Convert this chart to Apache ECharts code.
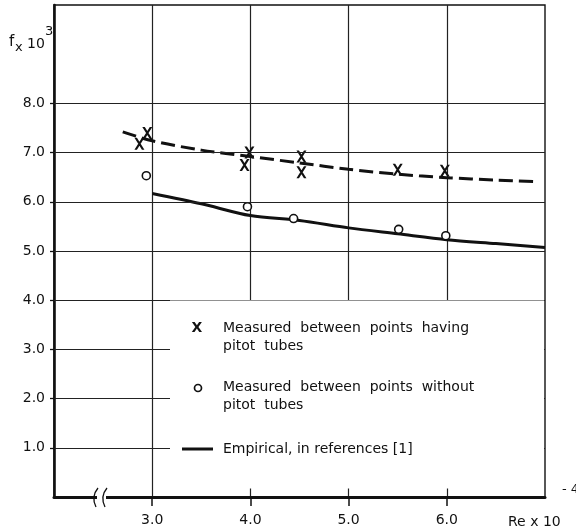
<!DOCTYPE html>
<html>
<head>
<meta charset="utf-8">
<script src="https://cdn.jsdelivr.net/npm/echarts@6/dist/echarts.min.js"></script>
<style>
html,body{margin:0;padding:0;background:#fff;}
#c{width:576px;height:532px;}
</style>
</head>
<body>
<div id="c"></div>
<script>
// Measured between points having pitot tubes (X)
const crossRe = [2.87, 2.95, 3.94, 3.99, 4.52, 4.52, 5.50, 5.98];
const crossF  = [7.18, 7.40, 6.75, 7.00, 6.92, 6.60, 6.65, 6.63];
// Measured between points without pitot tubes (o)
const circleRe = [2.94, 3.97, 4.44, 5.51, 5.99];
const circleF  = [6.53, 5.90, 5.66, 5.44, 5.31];
// dashed curve (fit through X points)
const dashRe = [2.70, 3.00, 3.50, 4.00, 4.50, 5.00, 5.50, 6.00, 6.50, 6.88];
const dashF  = [7.42, 7.24, 7.05, 6.92, 6.79, 6.66, 6.56, 6.49, 6.44, 6.41];
// Empirical curve
const empRe = [3.00, 3.50, 4.00, 4.50, 5.00, 5.50, 6.00, 6.50, 7.00];
const empF  = [6.17, 5.96, 5.72, 5.62, 5.47, 5.35, 5.23, 5.15, 5.07];
// ticks
const xTicks = [3, 4, 5, 6];
const yTicks = [1, 2, 3, 4, 5, 6, 7, 8];

const zip = (a, b) => a.map((v, i) => [v, b[i]]);
const FONT = 'DejaVu Sans';

const chart = echarts.init(document.getElementById('c'), null, {renderer: 'canvas'});
chart.setOption({
  backgroundColor: '#fff',
  animation: false,
  grid: {left: 54, right: 31, top: 5, bottom: 35, show: true, borderColor: '#111', borderWidth: 1.4, backgroundColor: 'transparent'},
  xAxis: {
    type: 'value', min: 2, max: 7, interval: 1,
    axisLine: {show: true, lineStyle: {color: '#111', width: 3}},
    axisTick: {show: true, inside: false, length: 9, customValues: xTicks, lineStyle: {color: '#111', width: 1.5}},
    axisLabel: {customValues: xTicks, formatter: v => v.toFixed(1), color: '#111', fontFamily: FONT, fontSize: 14, margin: 16},
    splitLine: {show: true, lineStyle: {color: '#222', width: 1.2}}
  },
  yAxis: {
    type: 'value', min: 0, max: 10, interval: 1,
    axisLine: {show: true, lineStyle: {color: '#111', width: 2.6}},
    axisTick: {show: true, inside: false, length: 4, customValues: yTicks, lineStyle: {color: '#111', width: 1.3}},
    axisLabel: {customValues: yTicks, formatter: v => v.toFixed(1), color: '#111', fontFamily: FONT, fontSize: 14, margin: 9},
    splitLine: {show: false}
  },
  series: [
    {
      type: 'line', data: [], z: 0, silent: true,
      markLine: {
        silent: true, symbol: ['none', 'none'], label: {show: false},
        lineStyle: {color: '#222', width: 1.2, type: 'solid'},
        emphasis: {disabled: true},
        data: yTicks.map(v => ({yAxis: v}))
      }
    },
    {
      type: 'line', data: zip(dashRe, dashF), showSymbol: false, smooth: 0.3,
      lineStyle: {color: '#111', width: 3, type: [14, 6]}, z: 3
    },
    {
      type: 'line', data: zip(empRe, empF), showSymbol: false, smooth: 0.3,
      lineStyle: {color: '#111', width: 3}, z: 3
    },
    {
      type: 'scatter', data: zip(crossRe, crossF), z: 4,
      symbol: 'path://M0,0 L3,0 L12,14 L9,14 Z M9,0 L12,0 L3,14 L0,14 Z',
      symbolSize: [10, 12], itemStyle: {color: '#111', opacity: 1}
    },
    {
      type: 'scatter', data: zip(circleRe, circleF), z: 4,
      symbol: 'circle', symbolSize: 8,
      itemStyle: {color: '#fff', borderColor: '#111', borderWidth: 1.6, opacity: 1}
    }
  ],
  graphic: [
    // legend box blanking the grid
    {type: 'rect', z: 100, shape: {x: 170, y: 300.5, width: 374, height: 188}, style: {fill: '#fff'}},
    {type: 'text', z: 101, style: {x: 197, y: 328, text: 'X', font: 'bold 14px "DejaVu Sans"', fill: '#111', align: 'center', verticalAlign: 'middle'}},
    {type: 'text', z: 101, style: {x: 223, y: 328, text: 'Measured  between  points  having', font: '14px "DejaVu Sans"', fill: '#111', verticalAlign: 'middle'}},
    {type: 'text', z: 101, style: {x: 223, y: 346, text: 'pitot  tubes', font: '14px "DejaVu Sans"', fill: '#111', verticalAlign: 'middle'}},
    {type: 'circle', z: 101, shape: {cx: 198, cy: 388, r: 3.5}, style: {fill: '#fff', stroke: '#111', lineWidth: 1.7}},
    {type: 'text', z: 101, style: {x: 223, y: 387, text: 'Measured  between  points  without', font: '14px "DejaVu Sans"', fill: '#111', verticalAlign: 'middle'}},
    {type: 'text', z: 101, style: {x: 223, y: 405, text: 'pitot  tubes', font: '14px "DejaVu Sans"', fill: '#111', verticalAlign: 'middle'}},
    {type: 'line', z: 101, shape: {x1: 182, y1: 449, x2: 213, y2: 449}, style: {stroke: '#111', lineWidth: 3}},
    {type: 'text', z: 101, style: {x: 223, y: 449, text: 'Empirical, in references [1]', font: '14px "DejaVu Sans"', fill: '#111', verticalAlign: 'middle'}},
    // axis break
    {type: 'rect', z: 101, shape: {x: 97, y: 493, width: 9, height: 8}, style: {fill: '#fff'}},
    {type: 'bezierCurve', z: 102, shape: {x1: 98, y1: 488, x2: 96, y2: 507, cpx1: 93, cpy1: 494, cpx2: 93, cpy2: 501}, style: {stroke: '#111', lineWidth: 1.3, fill: null}},
    {type: 'bezierCurve', z: 102, shape: {x1: 107, y1: 488, x2: 105, y2: 507, cpx1: 102, cpy1: 494, cpx2: 102, cpy2: 501}, style: {stroke: '#111', lineWidth: 1.3, fill: null}},
    // y-axis title  f_x 10^3
    {type: 'text', z: 101, style: {x: 9, y: 42, text: 'f', font: '15px "DejaVu Sans"', fill: '#111', verticalAlign: 'middle'}},
    {type: 'text', z: 101, style: {x: 15, y: 48, text: 'x', font: '13px "DejaVu Sans"', fill: '#111', verticalAlign: 'middle'}},
    {type: 'text', z: 101, style: {x: 27, y: 44, text: '10', font: '14px "DejaVu Sans"', fill: '#111', verticalAlign: 'middle'}},
    {type: 'text', z: 101, style: {x: 45, y: 32, text: '3', font: '13px "DejaVu Sans"', fill: '#111', verticalAlign: 'middle'}},
    // x-axis title  Re x 10^-4
    {type: 'text', z: 101, style: {x: 508, y: 522, text: 'Re x 10', font: '14px "DejaVu Sans"', fill: '#111', verticalAlign: 'middle'}},
    {type: 'text', z: 101, style: {x: 562, y: 490, text: '- 4', font: '13px "DejaVu Sans"', fill: '#111', verticalAlign: 'middle'}}
  ]
});
</script>
</body>
</html>
